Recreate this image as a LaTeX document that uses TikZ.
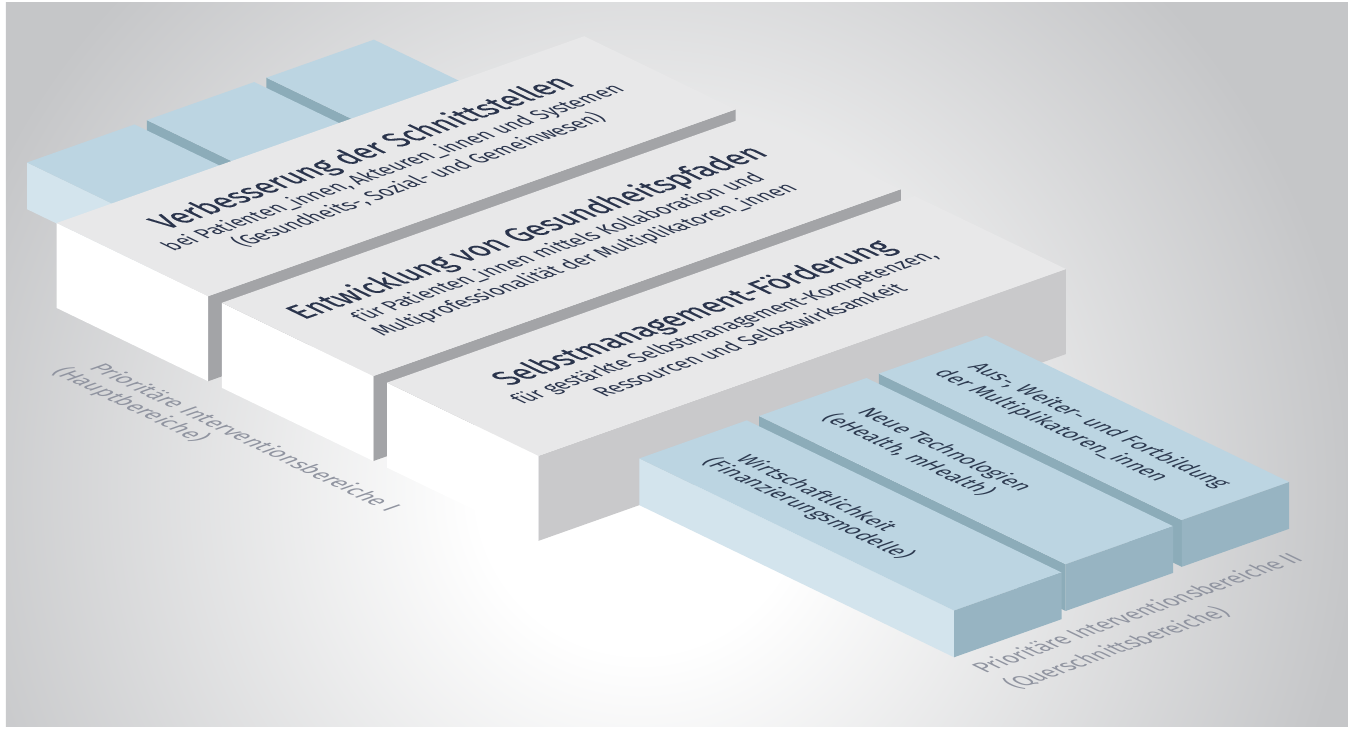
\documentclass[tikz,border=0pt]{standalone}
\usepackage{fontspec}
\setmainfont{Fira Sans}
\newfontfamily\titlefam{Fira Sans}[FakeBold=0.3]
\definecolor{bggray}{HTML}{C5C6C8}
\definecolor{slabtop}{HTML}{E8E8E9}
\definecolor{slabsideA}{HTML}{A3A4A7}
\definecolor{slabsideB}{HTML}{C9C9CB}
\definecolor{bartop}{HTML}{BCD5E2}
\definecolor{barleft}{HTML}{D3E4ED}
\definecolor{bargap}{HTML}{8CACB9}
\definecolor{barend}{HTML}{97B4C2}
\definecolor{titlecol}{HTML}{2A344C}
\definecolor{bartextcol}{HTML}{2D3A50}
\definecolor{labelcol}{HTML}{9094A0}
\pgfdeclareradialshading{bgglow}{\pgfpoint{0bp}{0bp}}{color(0bp)=(white); color(4.5bp)=(white); color(20bp)=(bggray); color(50bp)=(bggray)}
\tikzset{
  ontop/.style={cm={0.9426,0.3338,-1.035,0.5,#1}, transform shape, inner sep=0pt},
  onbar/.style={cm={0.9,-0.435,1.056,0.374,#1}, transform shape, inner sep=0pt},
  titletext/.style={font=\titlefam\fontsize{30}{36}\selectfont, text=titlecol, anchor=base},
  subtext/.style={font=\fontsize{20.5}{24}\selectfont, text=titlecol, anchor=base},
  bartext/.style={font=\fontsize{21}{26}\selectfont, text=bartextcol, anchor=base west},
  labeltext/.style={font=\fontsize{22}{26}\selectfont, text=labelcol, anchor=base west},
}
\begin{document}
\begin{tikzpicture}[x={(0.9426pt,0.3338pt)}, y={(0.9pt,-0.435pt)}, z={(0pt,1pt)}]
% canvas frame (image 1348 x 728 px)
\useasboundingbox (-56.7pt,-420pt) rectangle (1291.3pt,308pt);
\fill[white] (-56.7pt,-420pt) rectangle (1291.3pt,308pt);
\begin{scope}
  \clip (-50.7pt,-418pt) rectangle (1291.3pt,305pt);
  \fill[bggray] (-50.7pt,-418pt) rectangle (1291.3pt,305pt);
  \shade[shading=bgglow] (583.3pt,-182pt) circle (900pt);
\end{scope}

% ---- back parts of the cross bars ----
\foreach \xa/\lc in {361/bargap, 234/bargap, 107/barleft}{
  \pgfmathsetmacro\xb{\xa+114}
  \fill[\lc] (\xa,-145,0) -- (\xa,0,0) -- (\xa,0,46.7) -- (\xa,-145,46.7) -- cycle;
  \fill[bartop] (\xa,-145,46.7) -- (\xb,-145,46.7) -- (\xb,0,46.7) -- (\xa,0,46.7) -- cycle;
}

% ---- main slabs ----
\foreach \ya/\sc in {0/slabsideA, 183.5/slabsideA, 367/slabsideB}{
  \pgfmathsetmacro\yb{\ya+168.3}
  \fill[\sc] (0,\yb,0) -- (559.6,\yb,0) -- (559.6,\yb,85) -- (0,\yb,85) -- cycle;
  \fill[white] (0,\ya,0) -- (0,\yb,0) -- (0,\yb,85) -- (0,\ya,85) -- cycle;
  \fill[slabtop] (0,\ya,85) -- (559.6,\ya,85) -- (559.6,\yb,85) -- (0,\yb,85) -- cycle;
}

% ---- front parts of the cross bars ----
\foreach \xa/\yf/\lc in {361/872/bargap, 234/876/bargap, 107/885/barleft}{
  \pgfmathsetmacro\xb{\xa+114}
  \fill[\lc] (\xa,535.3,0) -- (\xa,\yf,0) -- (\xa,\yf,46.7) -- (\xa,535.3,46.7) -- cycle;
  \fill[bartop] (\xa,535.3,46.7) -- (\xb,535.3,46.7) -- (\xb,\yf,46.7) -- (\xa,\yf,46.7) -- cycle;
  \fill[barend] (\xa,\yf,0) -- (\xb,\yf,0) -- (\xb,\yf,46.7) -- (\xa,\yf,46.7) -- cycle;
}

% ---- texts on the slabs ----
\node[ontop={(276,61,85)}, titletext] (s1t) at (0,0) {Verbesserung der Schnittstellen};
\node[ontop={(276,92,85)}, subtext] (s1a) at (0,0) {bei Patienten\_innen, Akteuren\_innen und Systemen};
\node[ontop={(276,121,85)}, subtext] (s1b) at (0,0) {(Gesundheits-, Sozial- und Gemeinwesen)};

\node[ontop={(276,244.5,85)}, titletext] (s2t) at (0,0) {Entwicklung von Gesundheitspfaden};
\node[ontop={(276,275.5,85)}, subtext] (s2a) at (0,0) {für Patienten\_innen mittels Kollaboration und};
\node[ontop={(276,304.5,85)}, subtext] (s2b) at (0,0) {Multiprofessionalität der Multiplikatoren\_innen};

\node[ontop={(276,429,85)}, titletext] (s3t) at (0,0) {Selbstmanagement-Förderung};
\node[ontop={(276,460,85)}, subtext] (s3a) at (0,0) {für gestärkte Selbstmanagement-Kompetenzen,};
\node[ontop={(276,489,85)}, subtext] (s3b) at (0,0) {Ressourcen und Selbstwirksamkeit};

% ---- texts on the cross bars ----
\node[onbar={(164,581,46.7)}, bartext] (b1t) at (0,0) {Wirtschaftlichkeit};
\node[onbar={(139,570,46.7)}, bartext] (b1a) at (0,0) {(Finanzierungsmodelle)};
\node[onbar={(298,576,46.7)}, bartext] (b2t) at (0,0) {Neue Technologien};
\node[onbar={(269,567,46.7)}, bartext] (b2a) at (0,0) {(eHealth, mHealth)};
\node[onbar={(423,568,46.7)}, bartext] (b3t) at (0,0) {Aus-, Weiter- und Fortbildung};
\node[onbar={(394,561,46.7)}, bartext] (b3a) at (0,0) {der Multiplikatoren\_innen};

% ---- ground labels ----
\node[onbar={(-57,94,0)}, labeltext] (l1t) at (0,0) {Prioritäre Interventionsbereiche I};
\node[onbar={(-85,82,0)}, labeltext] (l1a) at (0,0) {(Hauptbereiche)};
\node[ontop={(105.6,921,0)}, labeltext] (l2t) at (0,0) {Prioritäre Interventionsbereiche II};
\node[ontop={(104,958,0)}, labeltext] (l2a) at (0,0) {(Querschnittsbereiche)};
\end{tikzpicture}
\end{document}
